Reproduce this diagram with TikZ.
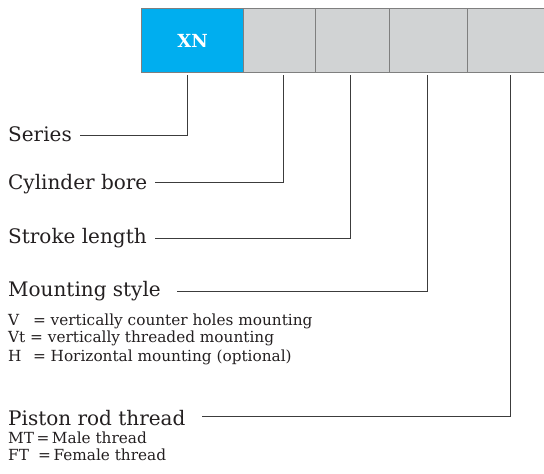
\documentclass[tikz,border=0pt]{standalone}
\usepackage{fontspec}
\setmainfont{DejaVu Serif}
\definecolor{xblue}{HTML}{00AEEF}
\definecolor{xgray}{HTML}{D1D3D4}
\definecolor{xedge}{HTML}{7F7F7F}
\definecolor{xline}{HTML}{3C3C3C}
\definecolor{xtext}{HTML}{231F20}
\begin{document}
\begin{tikzpicture}[x=1pt,y=-1pt,
  cell/.style={draw=xedge,line width=1pt},
  lead/.style={draw=xline,line width=1.1pt},
  head/.style={anchor=base west,inner sep=0pt,text=xtext,font=\fontsize{20}{22}\selectfont},
  sub/.style={anchor=base west,inner sep=0pt,text=xtext,font=\fontsize{15.3}{18}\selectfont}]
\useasboundingbox (0,0) rectangle (544,474);
% code boxes
\fill[xblue] (141.5,8) rectangle (243.5,72);
\fill[xgray] (243.5,8) rectangle (545,72);
\draw[cell] (545,8) -- (141.5,8) -- (141.5,72) -- (545,72);
\draw[cell] (243.5,8) -- (243.5,72);
\draw[cell] (315,8) -- (315,72);
\draw[cell] (389.3,8) -- (389.3,72);
\draw[cell] (467.3,8) -- (467.3,72);
\node[text=white,font=\bfseries\fontsize{18}{20}\selectfont] (xn) at (192.5,40.5) {XN};
% top anchors of leaders
\coordinate (t1) at (187.5,75);
\coordinate (t2) at (283.5,75);
\coordinate (t3) at (350.5,75);
\coordinate (t4) at (427.5,75);
\coordinate (t5) at (510.5,75);
% labels
\node[head] (series) at (8,141.5) {Series};
\node[head] (bore) at (8,189) {Cylinder bore};
\node[head] (stroke) at (8,243.5) {Stroke length};
\node[head] (mount) at (8,296.7) {Mounting style};
\node[sub] (m1) at (8,325) {V\hspace{0.9em}= vertically counter holes mounting};
\node[sub] (m2) at (8,342.7) {Vt = vertically threaded mounting};
\node[sub] (m3) at (8,361) {H\hspace{0.75em}= Horizontal mounting (optional)};
\node[head] (piston) at (8,425) {Piston rod thread};
\node[sub] (p1) at (8,443.3) {MT\,=\,Male thread};
\node[sub] (p2) at (8,460.5) {FT\hspace{0.6em}=\,Female thread};
% leaders
\coordinate (e1) at (80,135.5);
\coordinate (e2) at (155,182.5);
\coordinate (e3) at (155,238.5);
\coordinate (e4) at (177,291.5);
\coordinate (e5) at (202,416.5);
\draw[lead] (e1) -| (t1);
\draw[lead] (e2) -| (t2);
\draw[lead] (e3) -| (t3);
\draw[lead] (e4) -| (t4);
\draw[lead] (e5) -| (t5);
\end{tikzpicture}
\end{document}
